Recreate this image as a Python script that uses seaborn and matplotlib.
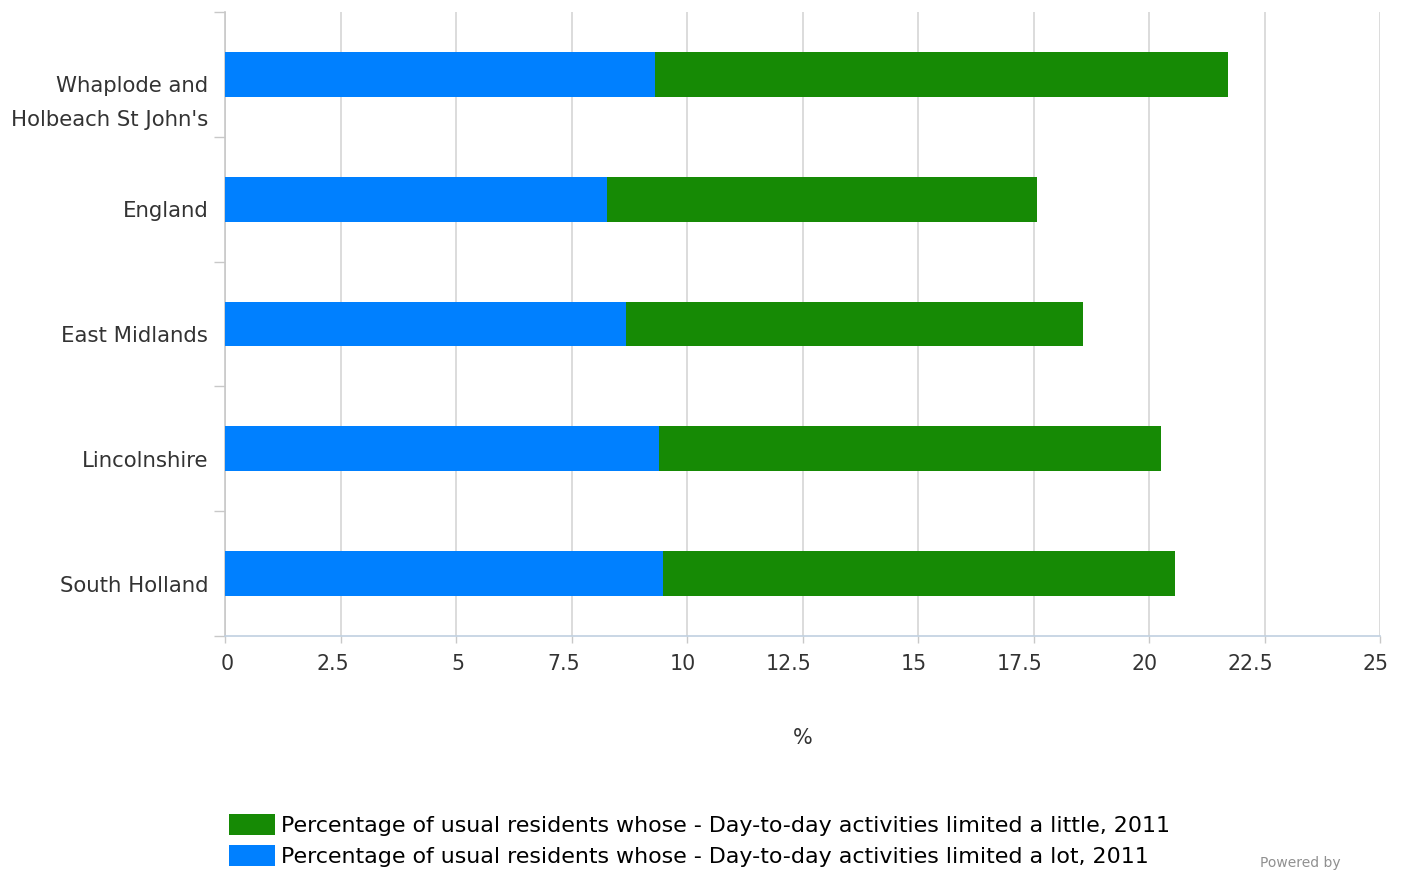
import matplotlib
matplotlib.use("Agg")
import matplotlib.pyplot as plt
import matplotlib.transforms as mtransforms
import seaborn as sns
import pandas as pd
import numpy as np

areas = ["Whaplode and\nHolbeach St John's", "England", "East Midlands",
         "Lincolnshire", "South Holland"]
limited_lot = [9.30, 8.27, 8.68, 9.39, 9.48]
limited_little = [12.42, 9.31, 9.89, 10.87, 11.08]
x_ticks = [0, 2.5, 5, 7.5, 10, 12.5, 15, 17.5, 20, 22.5, 25]
x_tick_labels = ["0", "2.5", "5", "7.5", "10", "12.5", "15", "17.5", "20", "22.5", "25"]
label_little = "Percentage of usual residents whose - Day-to-day activities limited a little, 2011"
label_lot = "Percentage of usual residents whose - Day-to-day activities limited a lot, 2011"

BLUE = "#0080ff"
GREEN = "#168a05"

df = pd.DataFrame({
    "area": areas,
    "lot": limited_lot,
    "total": np.array(limited_lot) + np.array(limited_little),
})

sns.set_theme(style="white")
plt.rcParams["font.family"] = ["DejaVu Sans"]

fig = plt.figure(figsize=(14.07, 8.71), dpi=100)
ax = fig.add_axes([225 / 1407, 1 - 636 / 871, (1380 - 225) / 1407, (636 - 12) / 871])

# stacked bars: full total in green, then the "a lot" share in blue over it
sns.barplot(data=df, y="area", x="total", color=GREEN, width=0.36,
            saturation=1, ax=ax, orient="h", zorder=3, linewidth=0)
sns.barplot(data=df, y="area", x="lot", color=BLUE, width=0.36,
            saturation=1, ax=ax, orient="h", zorder=4, linewidth=0)

ax.set_xlim(0, 25)
ax.set_ylim(len(areas) - 0.5, -0.5)
ax.set_xticks(x_ticks)
ax.set_xticklabels(x_tick_labels, ha="right")
ax.grid(axis="x", color="#d6d6d6", linewidth=1.2, zorder=0)
ax.set_axisbelow(True)

# category boundaries carry the tick marks, centres carry the labels
ax.set_yticks(np.arange(-0.5, len(areas), 1.0))
ax.set_yticklabels([])
ax.set_yticks(np.arange(len(areas)), minor=True)
ax.set_yticklabels(areas, minor=True, ha="right", va="top",
                   multialignment="right", linespacing=1.84)
ax.tick_params(axis="y", which="major", length=8, width=1, color="#c8c8c8", left=True)
ax.tick_params(axis="y", which="minor", length=0, pad=12, labelsize=15.3, labelcolor="#333333")
ax.tick_params(axis="x", which="major", length=5, width=1, color="#c8c8c8", bottom=True,
               pad=8, labelsize=14.8, labelcolor="#333333")
y_shift = mtransforms.ScaledTranslation(0, -0.02, fig.dpi_scale_trans)
for lbl in ax.get_yticklabels(minor=True):
    lbl.set_transform(lbl.get_transform() + y_shift)
x_shift = mtransforms.ScaledTranslation(0.085, 0, fig.dpi_scale_trans)
for lbl in ax.get_xticklabels():
    lbl.set_transform(lbl.get_transform() + x_shift)

for side in ["top", "right"]:
    ax.spines[side].set_visible(False)
ax.spines["left"].set_color("#c8c8c8")
ax.spines["left"].set_linewidth(1.2)
ax.spines["bottom"].set_color("#c0d0e0")
ax.spines["bottom"].set_linewidth(1.2)

ax.set_ylabel("")
ax.set_xlabel("%", fontsize=15, color="#333333", labelpad=39)

handles = [plt.Rectangle((0, 0), 1, 1, facecolor=GREEN, edgecolor="none"),
           plt.Rectangle((0, 0), 1, 1, facecolor=BLUE, edgecolor="none")]
fig.legend(handles, [label_little, label_lot], loc="upper left",
           bbox_to_anchor=(220 / 1407, 1 - 805 / 871), frameon=False,
           fontsize=15.9, handlelength=2.09, handleheight=1.09, handletextpad=0.27,
           labelspacing=0.4, borderaxespad=0, labelcolor="#000000")

fig.text(1260 / 1407, 1 - 870 / 871, "Powered by", fontsize=10, color="#909090",
         ha="left", va="bottom")

fig.savefig("out.png", dpi=100)
